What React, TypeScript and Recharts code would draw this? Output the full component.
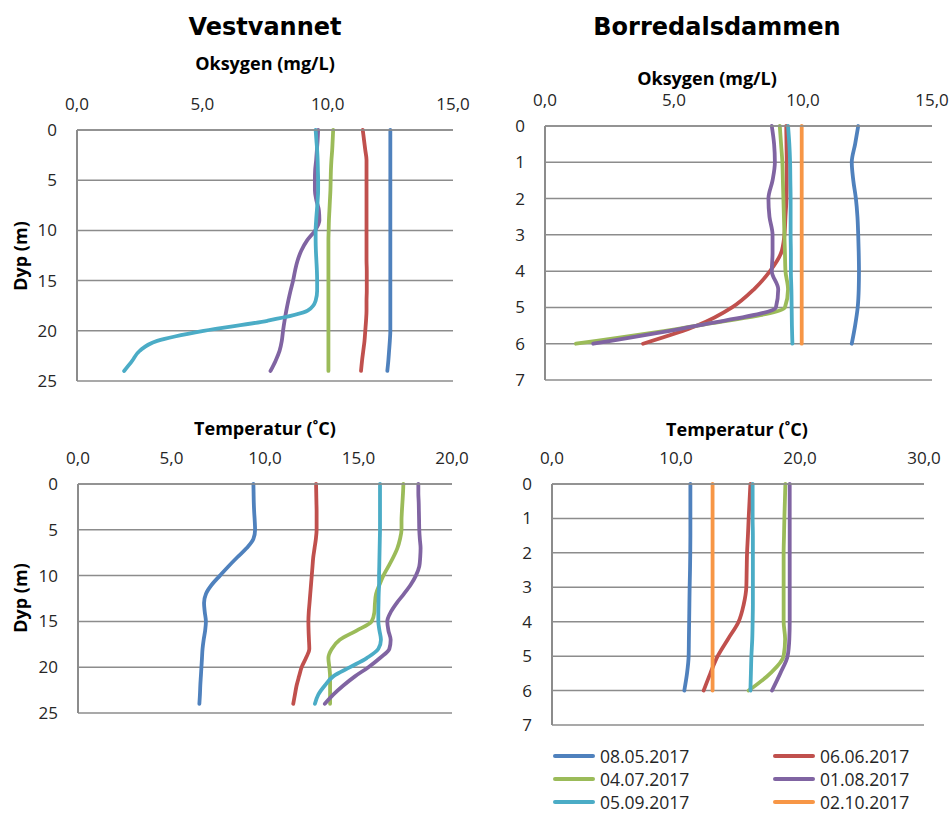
import { CartesianGrid, Line, LineChart, XAxis, YAxis } from 'recharts'

const GRID = '#8c8c8c'
const TEXT = '#262626'
const FONT = '"Open Sans", "Noto Sans", sans-serif'

const SERIES = [
  { key: 'd0805', name: '08.05.2017', color: '#4F81BD' },
  { key: 'd0606', name: '06.06.2017', color: '#C0504D' },
  { key: 'd0407', name: '04.07.2017', color: '#9BBB59' },
  { key: 'd0108', name: '01.08.2017', color: '#8064A2' },
  { key: 'd0509', name: '05.09.2017', color: '#4BACC6' },
  { key: 'd0210', name: '02.10.2017', color: '#F79646' },
]

// depths (m)
const VEST_DEPTHS = [0, 1, 2, 3, 4, 5, 6, 7, 8, 9, 10, 11, 12, 13, 14, 15, 16, 17, 18, 19, 20, 21, 22, 23, 24]
const BORRE_DEPTHS = [0, 0.5, 1, 1.5, 2, 2.5, 3, 3.5, 4, 4.5, 5, 5.5, 6]

// Vestvannet - oksygen (mg/L)
const VEST_O2_0805 = [12.5, 12.5, 12.5, 12.5, 12.5, 12.5, 12.5, 12.5, 12.5, 12.5, 12.5, 12.5, 12.5, 12.5, 12.5, 12.5, 12.5, 12.5, 12.5, 12.5, 12.5, 12.48, 12.45, 12.42, 12.38]
const VEST_O2_0606 = [11.4, 11.45, 11.5, 11.55, 11.55, 11.55, 11.55, 11.55, 11.55, 11.55, 11.55, 11.55, 11.55, 11.55, 11.56, 11.56, 11.56, 11.55, 11.55, 11.53, 11.5, 11.47, 11.42, 11.37, 11.33]
const VEST_O2_0407 = [10.22, 10.2, 10.18, 10.15, 10.13, 10.12, 10.11, 10.09, 10.07, 10.05, 10.04, 10.03, 10.03, 10.03, 10.03, 10.03, 10.03, 10.03, 10.03, 10.03, 10.03, 10.03, 10.03, 10.03, 10.03]
const VEST_O2_0108 = [9.62, 9.6, 9.57, 9.54, 9.5, 9.49, 9.49, 9.55, 9.65, 9.67, 9.5, 9.18, 8.95, 8.8, 8.7, 8.62, 8.52, 8.43, 8.35, 8.28, 8.22, 8.17, 8.08, 7.92, 7.72]
const VEST_O2_0509 = [9.52, 9.55, 9.58, 9.6, 9.61, 9.62, 9.62, 9.6, 9.57, 9.54, 9.52, 9.52, 9.53, 9.55, 9.57, 9.58, 9.58, 9.52, 9.2, 7.6, 5.05, 3.2, 2.5, 2.2, 1.88]

// Vestvannet - temperatur (C)
const VEST_T_0805 = [9.38, 9.39, 9.4, 9.42, 9.45, 9.47, 9.38, 9.02, 8.52, 8.04, 7.59, 7.15, 6.84, 6.74, 6.78, 6.84, 6.8, 6.72, 6.66, 6.63, 6.6, 6.57, 6.54, 6.52, 6.49]
const VEST_T_0606 = [12.73, 12.74, 12.75, 12.76, 12.76, 12.76, 12.72, 12.65, 12.58, 12.54, 12.5, 12.46, 12.42, 12.38, 12.34, 12.32, 12.33, 12.35, 12.37, 12.19, 11.96, 11.82, 11.69, 11.6, 11.51]
const VEST_T_0407 = [17.4, 17.38, 17.35, 17.32, 17.3, 17.3, 17.22, 17.08, 16.86, 16.6, 16.33, 16.12, 15.94, 15.88, 15.85, 15.7, 14.9, 14.0, 13.57, 13.39, 13.44, 13.48, 13.48, 13.48, 13.48]
const VEST_T_0108 = [18.2, 18.2, 18.22, 18.23, 18.24, 18.25, 18.28, 18.32, 18.3, 18.25, 18.07, 17.79, 17.43, 17.04, 16.72, 16.54, 16.6, 16.72, 16.65, 16.15, 15.53, 14.81, 14.19, 13.65, 13.2]
const VEST_T_0509 = [16.15, 16.15, 16.15, 16.15, 16.15, 16.15, 16.14, 16.13, 16.12, 16.11, 16.1, 16.1, 16.08, 16.07, 16.06, 16.06, 16.12, 16.2, 16.06, 15.44, 14.55, 13.65, 13.2, 12.85, 12.67]

// Borredalsdammen - oksygen (mg/L)
const BORRE_O2_0805 = [12.14, 12.02, 11.89, 11.95, 12.05, 12.11, 12.14, 12.16, 12.17, 12.16, 12.12, 12.02, 11.89]
const BORRE_O2_0606 = [9.35, 9.36, 9.37, 9.37, 9.36, 9.32, 9.28, 9.15, 8.72, 8.1, 7.25, 5.9, 3.8]
const BORRE_O2_0407 = [9.1, 9.15, 9.2, 9.22, 9.24, 9.26, 9.28, 9.3, 9.32, 9.42, 9.3, 5.9, 1.2]
const BORRE_O2_0108 = [8.79, 8.88, 8.91, 8.82, 8.66, 8.7, 8.82, 8.82, 8.79, 9.04, 8.95, 5.9, 1.87]
const BORRE_O2_0509 = [9.42, 9.47, 9.5, 9.51, 9.52, 9.52, 9.52, 9.53, 9.53, 9.55, 9.56, 9.57, 9.59]
const BORRE_O2_0210 = [9.95, 9.95, 9.95, 9.95, 9.95, 9.95, 9.95, 9.95, 9.95, 9.95, 9.95, 9.95, 9.95]

// Borredalsdammen - temperatur (C)
const BORRE_T_0805 = [11.16, 11.16, 11.16, 11.16, 11.15, 11.13, 11.1, 11.08, 11.06, 11.04, 11.02, 10.89, 10.67]
const BORRE_T_0606 = [16.0, 15.93, 15.86, 15.8, 15.73, 15.7, 15.67, 15.46, 15.05, 14.2, 13.36, 12.77, 12.23]
const BORRE_T_0407 = [18.82, 18.78, 18.74, 18.71, 18.68, 18.68, 18.68, 18.68, 18.68, 18.8, 18.68, 17.6, 15.86]
const BORRE_T_0108 = [19.17, 19.17, 19.17, 19.17, 19.17, 19.17, 19.17, 19.17, 19.17, 19.14, 19.0, 18.41, 17.74]
const BORRE_T_0509 = [16.18, 16.18, 16.18, 16.2, 16.2, 16.2, 16.2, 16.2, 16.18, 16.15, 16.08, 16.04, 16.0]
const BORRE_T_0210 = [12.95, 12.95, 12.95, 12.95, 12.95, 12.95, 12.95, 12.95, 12.95, 12.95, 12.95, 12.95, 12.95]

const VEST_TICKS = [0, 5, 10, 15, 20, 25]
const BORRE_TICKS = [0, 1, 2, 3, 4, 5, 6, 7]

type Row = Record<string, number>

function buildRows(depths: number[], cols: Record<string, number[]>): Row[] {
  return depths.map((depth, i) => {
    const row: Row = { depth }
    Object.keys(cols).forEach((k) => {
      row[k] = cols[k][i]
    })
    return row
  })
}

const vestO2 = buildRows(VEST_DEPTHS, { d0805: VEST_O2_0805, d0606: VEST_O2_0606, d0407: VEST_O2_0407, d0108: VEST_O2_0108, d0509: VEST_O2_0509 })
const vestT = buildRows(VEST_DEPTHS, { d0805: VEST_T_0805, d0606: VEST_T_0606, d0407: VEST_T_0407, d0108: VEST_T_0108, d0509: VEST_T_0509 })
const borreO2 = buildRows(BORRE_DEPTHS, { d0805: BORRE_O2_0805, d0606: BORRE_O2_0606, d0407: BORRE_O2_0407, d0108: BORRE_O2_0108, d0509: BORRE_O2_0509, d0210: BORRE_O2_0210 })
const borreT = buildRows(BORRE_DEPTHS, { d0805: BORRE_T_0805, d0606: BORRE_T_0606, d0407: BORRE_T_0407, d0108: BORRE_T_0108, d0509: BORRE_T_0509, d0210: BORRE_T_0210 })

const fmt = (v: number) => v.toFixed(1).replace('.', ',')
const tickStyle = { fill: TEXT, fontSize: 17, fontFamily: FONT }

function ProfileChart({
  left,
  top,
  plotWidth,
  plotHeight,
  rows,
  xTicks,
  yTicks,
}: {
  left: number
  top: number
  plotWidth: number
  plotHeight: number
  rows: Row[]
  xTicks: number[]
  yTicks: number[]
}) {
  const yAxisW = 70
  const xAxisH = 40
  const keys = SERIES.filter((s) => s.key in rows[0])
  return (
    <div style={{ position: 'absolute', left: left - yAxisW, top: top - xAxisH }}>
      <LineChart
        layout="vertical"
        width={plotWidth + yAxisW + 30}
        height={plotHeight + xAxisH + 10}
        data={rows}
        margin={{ top: 0, right: 30, bottom: 10, left: 0 }}
      >
        <CartesianGrid vertical={false} stroke={GRID} strokeWidth={1.5} />
        <XAxis
          type="number"
          orientation="top"
          domain={[xTicks[0], xTicks[xTicks.length - 1]]}
          ticks={xTicks}
          height={xAxisH}
          axisLine={{ stroke: GRID, strokeWidth: 1.5 }}
          tickLine={false}
          tickMargin={14}
          tick={tickStyle}
          tickFormatter={fmt}
          interval={0}
        />
        <YAxis
          type="number"
          dataKey="depth"
          domain={[yTicks[0], yTicks[yTicks.length - 1]]}
          ticks={yTicks}
          width={yAxisW}
          axisLine={{ stroke: GRID, strokeWidth: 2 }}
          tickLine={false}
          tickMargin={14}
          tick={tickStyle}
          interval={0}
        />
        {keys.map((s) => (
          <Line
            key={s.key}
            dataKey={s.key}
            name={s.name}
            type="monotoneY"
            stroke={s.color}
            strokeWidth={3.8}
            strokeLinecap="round"
            dot={false}
            isAnimationActive={false}
          />
        ))}
      </LineChart>
    </div>
  )
}

function Label({ x, y, children, size, bold = true, family = FONT, rotate = false }: {
  x: number
  y: number
  children: string
  size: number
  bold?: boolean
  family?: string
  rotate?: boolean
}) {
  return (
    <div
      style={{
        position: 'absolute',
        left: x,
        top: y,
        transform: `translate(-50%, -50%)${rotate ? ' rotate(-90deg)' : ''}`,
        whiteSpace: 'nowrap',
        fontFamily: family,
        fontSize: size,
        fontWeight: bold ? 700 : 400,
        lineHeight: 1,
        color: '#000',
      }}
    >
      {children}
    </div>
  )
}

export default function App() {
  return (
    <div style={{ position: 'absolute', left: 0, top: 0, width: 952, height: 814, background: '#fff', overflow: 'hidden' }}>
      <Label x={265} y={27} size={24} family='"DejaVu Sans", sans-serif'>Vestvannet</Label>
      <Label x={717} y={27} size={24} family='"DejaVu Sans", sans-serif'>Borredalsdammen</Label>
      <Label x={265} y={63} size={18}>Oksygen (mg/L)</Label>
      <Label x={707} y={78} size={18}>Oksygen (mg/L)</Label>
      <Label x={265} y={428} size={18}>Temperatur (˚C)</Label>
      <Label x={737} y={429} size={18}>Temperatur (˚C)</Label>
      <Label x={20} y={256} size={18} rotate>Dyp (m)</Label>
      <Label x={20} y={598} size={18} rotate>Dyp (m)</Label>

      <ProfileChart left={77} top={130} plotWidth={376} plotHeight={251} rows={vestO2} xTicks={[0, 5, 10, 15]} yTicks={VEST_TICKS} />
      <ProfileChart left={545} top={126} plotWidth={387} plotHeight={254} rows={borreO2} xTicks={[0, 5, 10, 15]} yTicks={BORRE_TICKS} />
      <ProfileChart left={78} top={484} plotWidth={374} plotHeight={229} rows={vestT} xTicks={[0, 5, 10, 15, 20]} yTicks={VEST_TICKS} />
      <ProfileChart left={552} top={484} plotWidth={372} plotHeight={241} rows={borreT} xTicks={[0, 10, 20, 30]} yTicks={BORRE_TICKS} />

      <div
        style={{
          position: 'absolute',
          left: 553,
          top: 744,
          display: 'grid',
          gridTemplateColumns: '220px 200px',
          fontFamily: FONT,
          fontSize: 17.5,
          lineHeight: '18px',
          color: TEXT,
        }}
      >
        {SERIES.map((s) => (
          <div key={s.key} style={{ display: 'flex', alignItems: 'center', height: 23 }}>
            <span style={{ width: 42, height: 4, borderRadius: 2, background: s.color, marginRight: 5 }} />
            <span>{s.name}</span>
          </div>
        ))}
      </div>
    </div>
  )
}
